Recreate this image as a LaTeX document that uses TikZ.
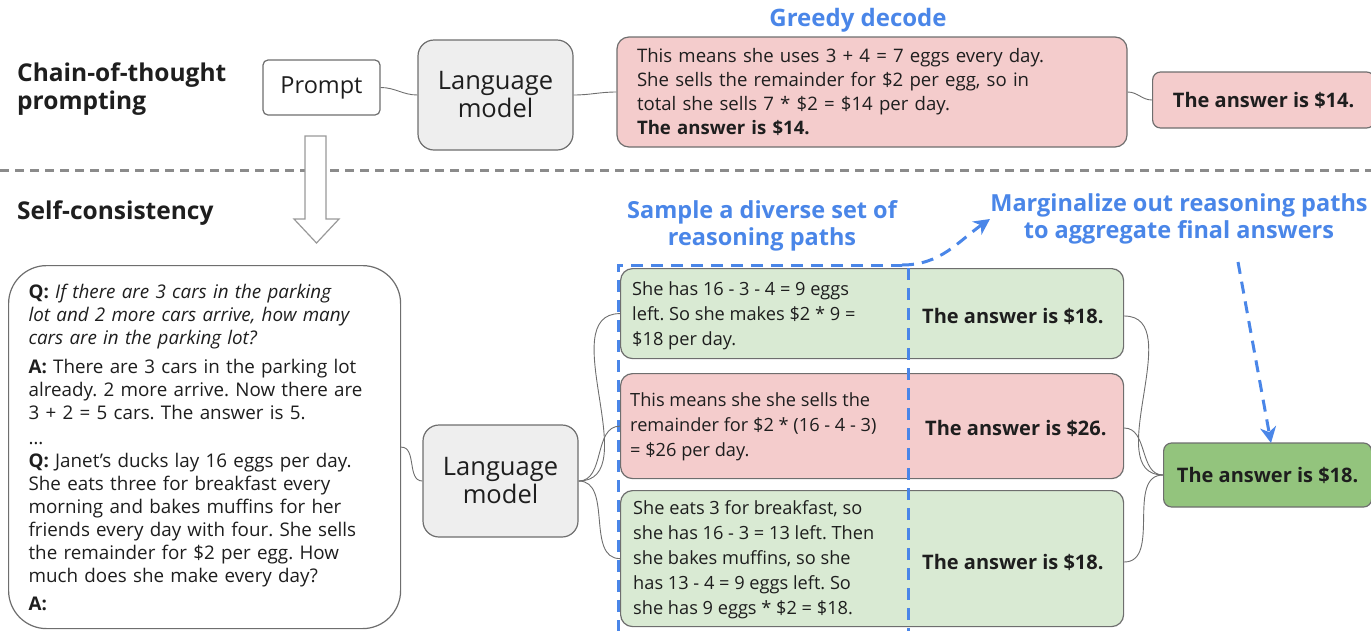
\documentclass[tikz,border=0pt]{standalone}
\usepackage{fontspec}
\setmainfont{Open Sans}
\usetikzlibrary{arrows.meta}
\definecolor{pinkfill}{HTML}{F4CCCC}
\definecolor{greenfill}{HTML}{D9EAD3}
\definecolor{dgreen}{HTML}{93C47D}
\definecolor{lmgray}{HTML}{EEEEEE}
\definecolor{edge}{HTML}{6E6E6E}
\definecolor{accent}{HTML}{4A86E8}
\definecolor{ink}{HTML}{1E1E1E}
\frenchspacing
\begin{document}
\begin{tikzpicture}[x=1pt,y=-1pt, font=\fontsize{18.8}{23}\selectfont, text=ink,
  box/.style={draw=edge, line width=1.2pt, rounded corners=12pt},
  wire/.style={draw=edge, line width=0.9pt},
  heading/.style={font=\fontsize{24.5}{28}\selectfont\bfseries, align=left, anchor=west, inner sep=0pt},
  note/.style={font=\fontsize{23.5}{27}\selectfont\bfseries, text=accent, align=center},
  bluedash/.style={draw=accent, line width=3pt, dash pattern=on 12pt off 8pt},
  bluetip/.style={-{Stealth[length=16pt,width=16pt,inset=5pt]}},
  ans/.style={font=\fontsize{20}{23}\selectfont\bfseries, anchor=west, inner sep=0pt},
  pathtext/.style={font=\fontsize{18.2}{25}\selectfont, anchor=west, align=left, inner sep=0pt},
  lmbox/.style={box, rounded corners=16pt, fill=lmgray, minimum width=155pt, align=center, font=\fontsize{25.5}{28}\selectfont},
]
\useasboundingbox (0,0) rectangle (1371,630);

% ---------- chain-of-thought prompting ----------
\node[heading] (cot) at (17,89) {Chain-of-thought\\prompting};
\node[box, rounded corners=5pt, fill=white, minimum width=117pt, minimum height=55pt,
      font=\fontsize{23.5}{26}\selectfont] (prompt) at (321.5,87.5) {Prompt};
\node[lmbox, minimum height=110pt] (lm1) at (495.5,95) {Language\\model};
\node[note, font=\fontsize{24}{27}\selectfont\bfseries] (greedy) at (858,20) {Greedy decode};
\node[box, fill=pinkfill, minimum width=510pt, minimum height=110pt, text width=470pt,
      inner xsep=20pt, align=left, font=\fontsize{18.6}{24}\selectfont] (greedyout) at (872,92)
  {This means she uses 3 + 4 = 7 eggs every day.\\
   She sells the remainder for \$2 per egg, so in\\
   total she sells 7 * \$2 = \$14 per day.\\
   \textbf{The answer is \$14.}};
\node[box, rounded corners=8pt, fill=pinkfill, minimum width=222pt, minimum height=56pt,
      anchor=west, font=\fontsize{20}{23}\selectfont\bfseries] (greedyans) at (1152,100) {The answer is \$14.};

\draw[wire] (prompt.east) to[out=0,in=180] (lm1.west);
\draw[wire] (lm1.east) to[out=0,in=180] (greedyout.west);
\draw[wire] (greedyout.east) to[out=0,in=180] (greedyans.west);

% ---------- separator and hand-over arrow ----------
\draw[draw=edge!80, line width=3pt, dash pattern=on 9pt off 6pt] (0,170) -- (1371,170);
\draw[draw=edge!70, line width=1.2pt, fill=white, line join=miter]
  (305,136) -- (326,136) -- (326,219) -- (339,219) -- (316.5,243) -- (294,219) -- (305,219) -- cycle;

% ---------- self-consistency ----------
\node[heading] (sc) at (17,213) {Self-consistency};

\node[box, rounded corners=38pt, fill=white, minimum width=392pt, minimum height=363pt,
      text width=352pt, inner xsep=20pt, align=left, anchor=north west] (question) at (8,265)
  {\textbf{Q:} \textit{If there are 3 cars in the parking}\\
   \textit{lot and 2 more cars arrive, how many}\\
   \textit{cars are in the parking lot?}\\[6pt]
   \textbf{A:} There are 3 cars in the parking lot\\
   already. 2 more arrive. Now there are\\
   3 + 2 = 5 cars. The answer is 5.\\[2pt]
   \ldots\\
   \textbf{Q:} Janet's ducks lay 16 eggs per day.\\
   She eats three for breakfast every\\
   morning and bakes muffins for her\\
   friends every day with four. She sells\\
   the remainder for \$2 per egg. How\\
   much does she make every day?\\[5pt]
   \textbf{A:}};

\node[lmbox, minimum height=112pt] (lm2) at (500.5,481) {Language\\model};

% sampled reasoning paths
\draw[bluedash] (618,632) -- (618,265) -- (902,265);
\node[box, fill=greenfill, minimum width=503pt, minimum height=90pt, anchor=north west] (p1) at (620,268) {};
\node[box, fill=pinkfill, minimum width=503pt, minimum height=105pt, anchor=north west] (p2) at (620,373) {};
\node[box, fill=greenfill, minimum width=503pt, minimum height=136pt, anchor=north west] (p3) at (620,490) {};

\node[pathtext] (p1t) at (632,316) {She has 16 - 3 - 4 = 9 eggs\\left. So she makes \$2 * 9 =\\\$18 per day.};
\node[pathtext] (p2t) at (630,427) {This means she she sells the\\remainder for \$2 * (16 - 4 - 3)\\= \$26 per day.};
\node[pathtext] (p3t) at (633,560) {She eats 3 for breakfast, so\\she has 16 - 3 = 13 left. Then\\she bakes muffins, so she\\has 13 - 4 = 9 eggs left. So\\she has 9 eggs * \$2 = \$18.};

\node[ans] (p1a) at (922,316) {The answer is \$18.};
\node[ans] (p2a) at (925,428) {The answer is \$26.};
\node[ans] (p3a) at (922,562) {The answer is \$18.};

\node[box, rounded corners=8pt, fill=dgreen, minimum width=208pt, minimum height=64pt,
      anchor=west, font=\fontsize{20}{23}\selectfont\bfseries] (final) at (1163,475) {The answer is \$18.};

% blue annotations
\node[note] (sample) at (762,226) {Sample a diverse set of\\reasoning paths};
\node[note] (marg) at (1179,219) {Marginalize out reasoning paths\\to aggregate final answers};
\coordinate (corner) at (902,265);
\coordinate (margtip) at (990,219);
\coordinate (margfoot) at (1238,262);
\coordinate (finaltop) at (1271,443);
\draw[bluedash] (908,268) -- (908,632);
\draw[bluedash, bluetip] (corner) to[out=0,in=215] (margtip);
\draw[bluedash, bluetip] (margfoot) -- (finaltop);

% connectors
\draw[wire] (question.east) to[out=0,in=180] (lm2.west);
\draw[wire] (lm2.east) to[out=0,in=180] (p1.west);
\draw[wire] (lm2.east) to[out=0,in=180] (p2.west);
\draw[wire] (lm2.east) to[out=0,in=180] (p3.west);
\draw[wire] (p1.east |- p1a) to[out=0,in=180] (final.west);
\draw[wire] (p2.east |- p2a) to[out=0,in=180] (final.west);
\draw[wire] (p3.east |- p3a) to[out=0,in=180] (final.west);
\end{tikzpicture}
\end{document}
